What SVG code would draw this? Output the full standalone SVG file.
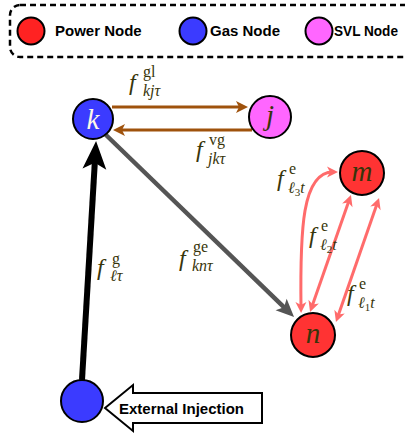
<svg xmlns="http://www.w3.org/2000/svg" width="405" height="434" viewBox="0 0 405 434">
<style>
.leg{font-family:"Liberation Sans",Arial,sans-serif;font-weight:bold;font-size:15px;fill:#000}
.node{stroke:#000;stroke-width:2}
.nl{font-family:"Liberation Serif","Times New Roman",serif;font-style:italic;font-size:29px;text-anchor:middle}
.lab{font-family:"Liberation Serif","Times New Roman",serif;fill:#38350a}
.f{font-style:italic;font-size:24px}
.sup{font-size:16px}
.sub{font-style:italic;font-size:16px}
.ss{font-style:normal;font-size:11px}
.brown{stroke:#9f520c;stroke-width:3;fill:none}
.pink{stroke:#ff6b6b;stroke-width:3;fill:none}
</style>
<defs>
<marker id="hBlack" markerUnits="userSpaceOnUse" orient="auto" markerWidth="30" markerHeight="26" viewBox="0 -12 27 24" refX="14" refY="0">
<path d="M0,-11 L26,0 L0,11 L6,0 Z" fill="#000"/>
</marker>
<marker id="hGray" markerUnits="userSpaceOnUse" orient="auto" markerWidth="20" markerHeight="18" viewBox="0 -9 19 18" refX="10" refY="0">
<path d="M0,-8 L18,0 L0,8 L4,0 Z" fill="#555"/>
</marker>
<marker id="hBrown" markerUnits="userSpaceOnUse" orient="auto" markerWidth="14" markerHeight="14" viewBox="0 -7 13 14" refX="6" refY="0">
<path d="M0,-6 L12,0 L0,6 L3,0 Z" fill="#9f520c"/>
</marker>
<marker id="hPink" markerUnits="userSpaceOnUse" orient="auto-start-reverse" markerWidth="13" markerHeight="13" viewBox="0 -6.5 12 13" refX="6" refY="0">
<path d="M0,-5.5 L11,0 L0,5.5 L3,0 Z" fill="#ff6b6b"/>
</marker>
</defs>

<g id="legend">
<rect x="10" y="5" width="410" height="52" rx="10" fill="none" stroke="#000" stroke-width="2.5" stroke-dasharray="6 4"/>
<g id="legend-power"><circle class="node" cx="31" cy="31" r="13.5" fill="#ff2222"/><text class="leg" x="55" y="36">Power Node</text></g>
<g id="legend-gas"><circle class="node" cx="193" cy="31" r="13.5" fill="#3b3bff"/><text class="leg" x="210" y="36">Gas Node</text></g>
<g id="legend-svl"><circle class="node" cx="319" cy="31" r="13.5" fill="#ff66ff"/><text class="leg" x="334" y="36" textLength="64" lengthAdjust="spacingAndGlyphs">SVL Node</text></g>
</g>

<g id="connectors">
<line x1="82" y1="380" x2="95.3" y2="154" stroke="#000" stroke-width="6" marker-end="url(#hBlack)"/>
<line x1="106" y1="135" x2="288.3" y2="311.4" stroke="#555" stroke-width="4.5" marker-end="url(#hGray)"/>
<line class="brown" x1="112" y1="107" x2="242" y2="107" marker-end="url(#hBrown)"/>
<line class="brown" x1="252" y1="130" x2="119" y2="130" marker-end="url(#hBrown)"/>
<path class="pink" d="M301,308 C300,230 302,172 333,172" marker-start="url(#hPink)" marker-end="url(#hPink)"/>
<line class="pink" x1="311.7" y1="307.3" x2="349.3" y2="199.7" marker-start="url(#hPink)" marker-end="url(#hPink)"/>
<line class="pink" x1="337.6" y1="317.3" x2="377.4" y2="202.7" marker-start="url(#hPink)" marker-end="url(#hPink)"/>
<g id="injection">
<polygon points="105,408 133,385 133,393 262,393 262,423 133,423 133,431" fill="#fff" stroke="#000" stroke-width="2"/>
<text class="leg" x="119" y="414">External Injection</text>
</g>
</g>

<g id="labels" class="lab">
<text><tspan class="f" x="129" y="90">f</tspan><tspan class="sup" x="143" y="77">gl</tspan><tspan class="sub" x="143" y="96">kjτ</tspan></text>
<text><tspan class="f" x="196" y="157">f</tspan><tspan class="sup" x="209" y="145">vg</tspan><tspan class="sub" x="208" y="164">jkτ</tspan></text>
<text><tspan class="f" x="179" y="266">f</tspan><tspan class="sup" x="193" y="252">ge</tspan><tspan class="sub" x="192" y="271">knτ</tspan></text>
<text><tspan class="f" x="97" y="275">f</tspan><tspan class="sup" x="112" y="264">g</tspan><tspan class="sub" x="110" y="281">ℓτ</tspan></text>
<text><tspan class="f" x="277" y="186">f</tspan><tspan class="sup" x="289" y="174">e</tspan><tspan class="sub" x="288" y="193">ℓ</tspan><tspan class="ss" dy="3">3</tspan><tspan class="sub" dy="-3">t</tspan></text>
<text><tspan class="f" x="309" y="243">f</tspan><tspan class="sup" x="321" y="231">e</tspan><tspan class="sub" x="320" y="250">ℓ</tspan><tspan class="ss" dy="3">2</tspan><tspan class="sub" dy="-3">t</tspan></text>
<text><tspan class="f" x="347" y="301">f</tspan><tspan class="sup" x="359" y="289">e</tspan><tspan class="sub" x="358" y="308">ℓ</tspan><tspan class="ss" dy="3">1</tspan><tspan class="sub" dy="-3">t</tspan></text>
</g>

<g id="node-k"><circle class="node" cx="93" cy="119" r="20" fill="#3b3bff"/><text class="nl" x="93" y="129" fill="#fff8e8">k</text></g>
<g id="node-j"><circle class="node" cx="270" cy="117" r="21" fill="#ff66ff"/><text class="nl" x="270" y="125" fill="#38350a">j</text></g>
<g id="node-m"><circle class="node" cx="362" cy="173" r="22" fill="#ff3333"/><text class="nl" x="362" y="181" fill="#38350a">m</text></g>
<g id="node-n"><circle class="node" cx="313" cy="335" r="22" fill="#ff3333"/><text class="nl" x="313" y="343" fill="#38350a">n</text></g>
<g id="node-src"><circle class="node" cx="82" cy="401" r="21" fill="#3b3bff"/></g>
</svg>
